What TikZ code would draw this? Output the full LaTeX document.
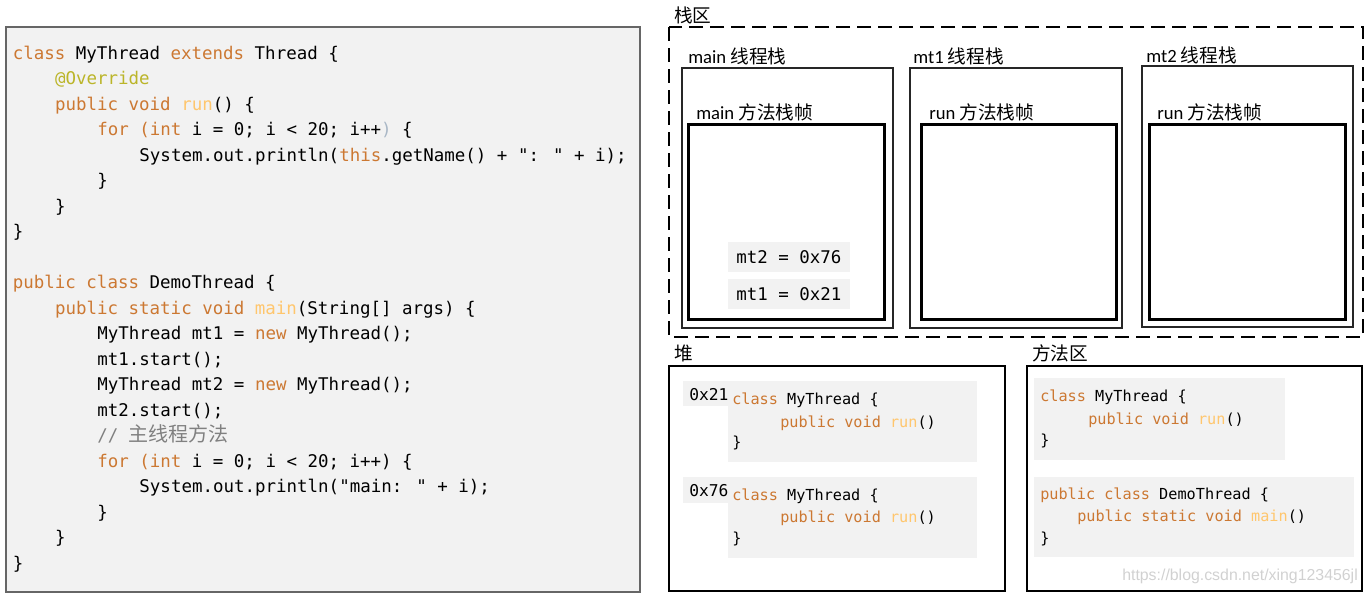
\documentclass[tikz,border=0pt]{standalone}
\usepackage{fontspec}
\newfontfamily\codefont{DejaVu Sans Mono}
\newfontfamily\cjk{Noto Sans CJK SC}
\newfontfamily\labfont{Carlito}
\newfontfamily\wmfont{Liberation Sans}
\definecolor{kwc}{HTML}{CC7832}
\definecolor{fnc}{HTML}{FFC66D}
\definecolor{annc}{HTML}{BBB529}
\definecolor{cmtc}{HTML}{808080}
\definecolor{panelc}{HTML}{F2F2F2}
\definecolor{plc}{HTML}{A9B7C6}
\newcommand\K[1]{\textcolor{kwc}{#1}}
\newcommand\F[1]{\textcolor{fnc}{#1}}
\newcommand\A[1]{\textcolor{annc}{#1}}
\tikzset{
  codeline/.style={anchor=base west, inner sep=0pt, font=\codefont\fontsize{13.1pt}{16pt}\selectfont},
  smallcode/.style={anchor=base west, inner sep=0pt, font=\codefont\fontsize{11.4pt}{14pt}\selectfont},
  addrlab/.style={anchor=base west, inner sep=0pt, font=\codefont\fontsize{12.2pt}{14pt}\selectfont},
  lab/.style={anchor=base west, inner sep=0pt, font=\labfont\fontsize{14pt}{17pt}\selectfont},
  threadbox/.style={draw=black!85, line width=1.5pt},
  framebox/.style={draw=black, line width=2.25pt},
  areabox/.style={draw=black, line width=1.5pt},
  graybox/.style={fill=panelc, draw=none},
}
\begin{document}
\begin{tikzpicture}[x=0.75pt,y=-0.75pt]
\useasboundingbox (0,0) rectangle (1366,593);
% ---------------- left code panel ----------------
\draw[fill=panelc, draw=black!60, line width=1.1pt] (6,27) rectangle (640,592);
\def\xa{12.6}\def\xb{54.8}\def\xc{97}\def\xd{139.2}
\node[codeline] (l0)  at (\xa,59.3)  {\K{class} MyThread \K{extends} Thread \{};
\node[codeline] (l1)  at (\xb,84.8)  {\A{@Override}};
\node[codeline] (l2)  at (\xb,110.3) {\K{public} \K{void} \F{run}() \{};
\node[codeline] (l3)  at (\xc,135.8) {\K{for} \K{(int} i = 0; i < 20; i++\textcolor{plc}{)} \{};
\node[codeline] (l4)  at (\xd,161.3) {System.out.println(\K{this}.getName() + ": " + i);};
\node[codeline] (l5)  at (\xc,186.8) {\}};
\node[codeline] (l6)  at (\xb,212.3) {\}};
\node[codeline] (l7)  at (\xa,237.8) {\}};
\node[codeline] (l9)  at (\xa,288.8) {\K{public} \K{class} DemoThread \{};
\node[codeline] (l10) at (\xb,314.3) {\K{public} \K{static} \K{void} \F{main}(String[] args) \{};
\node[codeline] (l11) at (\xc,339.8) {MyThread mt1 = \K{new} MyThread();};
\node[codeline] (l12) at (\xc,365.3) {mt1.start();};
\node[codeline] (l13) at (\xc,390.8) {MyThread mt2 = \K{new} MyThread();};
\node[codeline] (l14) at (\xc,416.3) {mt2.start();};
\node[codeline] (l15) at (\xc,441.8) {\textcolor{cmtc}{// {\cjk\fontsize{15pt}{18pt}\selectfont 主线程方法}}};
\node[codeline] (l16) at (\xc,467.3) {\K{for} \K{(int} i = 0; i < 20; i++) \{};
\node[codeline] (l17) at (\xd,492.8) {System.out.println("main: " + i);};
\node[codeline] (l18) at (\xc,518.3) {\}};
\node[codeline] (l19) at (\xb,543.8) {\}};
\node[codeline] (l20) at (\xa,569.3) {\}};
% ---------------- stack area ----------------
\node[lab] (stacklab) at (674,22) {\cjk 栈区};
\draw[line width=1.5pt, dash pattern=on 10.5pt off 5.25pt] (669,27) rectangle (1363,337);
% main thread
\node[lab] (mainlab) at (688,63) {main {\cjk 线程栈}};
\draw[threadbox] (682,68) rectangle (893,328);
\node[lab] (mainframelab) at (696,119) {main {\cjk 方法栈帧}};
\draw[framebox] (688,124) rectangle (884,319);
\fill[graybox] (728,242) rectangle (850,272);
\node[codeline] (mt2var) at (736,263) {mt2 = 0x76};
\fill[graybox] (728,279) rectangle (850,309);
\node[codeline] (mt1var) at (736,300) {mt1 = 0x21};
% mt1 thread
\node[lab] (mt1lab) at (913,63) {mt1 {\cjk 线程栈}};
\draw[threadbox] (910,68) rectangle (1122,328);
\node[lab] (mt1framelab) at (929,119) {run {\cjk 方法栈帧}};
\draw[framebox] (921,124) rectangle (1116,319);
% mt2 thread
\node[lab] (mt2lab) at (1146,62) {mt2 {\cjk 线程栈}};
\draw[threadbox] (1142,66) rectangle (1353,327);
\node[lab] (mt2framelab) at (1157,119) {run {\cjk 方法栈帧}};
\draw[framebox] (1149,124) rectangle (1345,319);
% ---------------- heap ----------------
\node[lab] (heaplab) at (674,360) {\cjk 堆};
\draw[areabox] (669,366) rectangle (1005,591);
\fill[graybox] (683,381) rectangle (728,406);
\fill[graybox] (728,381) rectangle (977,462);
\node[addrlab] (h1addr) at (689,400) {0x21};
\node[smallcode] (h1a) at (732,404) {\K{class} MyThread \{};
\node[smallcode] (h1b) at (780,427) {\K{public} \K{void} \F{run}()};
\node[smallcode] (h1c) at (732,447) {\}};
\fill[graybox] (683,477) rectangle (728,503);
\fill[graybox] (728,477) rectangle (977,558);
\node[addrlab] (h2addr) at (689,496) {0x76};
\node[smallcode] (h2a) at (732,500) {\K{class} MyThread \{};
\node[smallcode] (h2b) at (780,522) {\K{public} \K{void} \F{run}()};
\node[smallcode] (h2c) at (732,543) {\}};
% ---------------- method area ----------------
\node[lab] (methlab) at (1032,360) {\cjk 方法区};
\draw[areabox] (1027,366) rectangle (1362,591);
\fill[graybox] (1034,378) rectangle (1285,460);
\node[smallcode] (m1a) at (1040,401) {\K{class} MyThread \{};
\node[smallcode] (m1b) at (1088,424) {\K{public} \K{void} \F{run}()};
\node[smallcode] (m1c) at (1040,445) {\}};
\fill[graybox] (1034,477) rectangle (1354,557);
\node[smallcode] (m2a) at (1040,499) {\K{public} \K{class} DemoThread \{};
\node[smallcode] (m2b) at (1077,521) {\K{public} \K{static} \K{void} \F{main}()};
\node[smallcode] (m2c) at (1040,543) {\}};
% watermark
\node[anchor=base west, inner sep=0pt, font=\wmfont\fontsize{11.9pt}{14pt}\selectfont, text=black!18] (wm) at (1122,580) {https://blog.csdn.net/xing123456jl};
\end{tikzpicture}
\end{document}
